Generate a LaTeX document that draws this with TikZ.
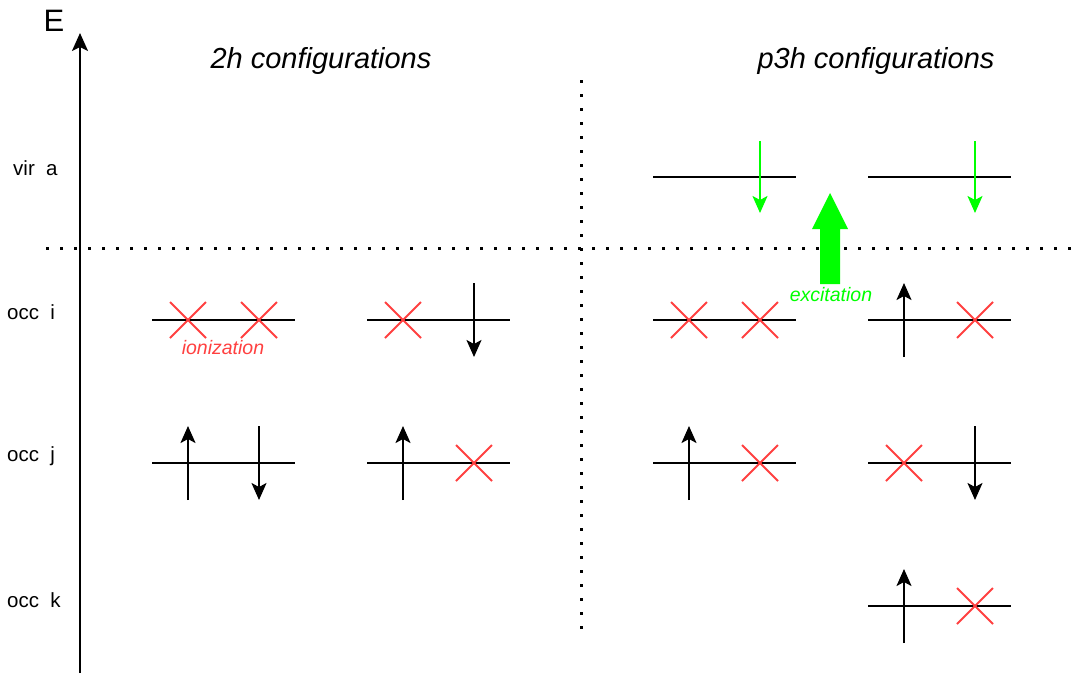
\documentclass[tikz,border=0pt]{standalone}
\usepackage{fontspec}
\setmainfont{Liberation Sans}
\usetikzlibrary{arrows.meta}
\definecolor{xred}{RGB}{255,64,64}
\definecolor{xgreen}{RGB}{0,255,0}
\tikzset{
  lvl/.style={line width=2pt,black},
  spin/.style={line width=2pt,black,-{Stealth[length=17pt,width=15pt,inset=4pt]}},
  gspin/.style={line width=2pt,xgreen,-{Stealth[length=17pt,width=15pt,inset=4pt]}},
  crs/.style={line width=2pt,xred},
  dots/.style={line width=3pt,dash pattern=on 3pt off 11pt},
  rowlab/.style={anchor=west,font=\fontsize{20.5}{24}\selectfont,inner sep=0pt},
  title/.style={font=\fontsize{29}{34}\selectfont\itshape,inner sep=0pt},
  note/.style={font=\fontsize{19.5}{23}\selectfont\itshape,inner sep=0pt},
}
\newcommand{\xcross}[2]{\draw[crs] (#1-18,#2-18) -- (#1+18,#2+18) (#1-18,#2+18) -- (#1+18,#2-18);}
\newcommand{\upspin}[2]{\draw[spin] (#1,#2+37) -- (#1,#2-37);}
\newcommand{\dnspin}[2]{\draw[spin] (#1,#2-37) -- (#1,#2+37);}
\newcommand{\level}[2]{\draw[lvl] (#1,#2) -- (#1+143,#2);}
\begin{document}
\begin{tikzpicture}[x=1pt,y=-1pt]
\useasboundingbox (0,0) rectangle (1072,673);
% axis
\draw[line width=2pt,-{Stealth[length=18pt,width=16pt,inset=4pt]}] (80,673) -- (80,33);
\node[font=\fontsize{31}{36}\selectfont,inner sep=0pt] (E) at (54,21) {E};
% titles
\node[title] (t2h) at (321,61) {2h configurations};
\node[title] (tp3h) at (876,61) {p3h configurations};
% dotted separators
\draw[dots] (581,80) -- (581,640);
\draw[dots] (46,248) -- (1072,248);
% row labels
\node[rowlab] (lva) at (13,168) {vir\ \ a};
\node[rowlab] (loi) at (7,312) {occ\ \ i};
\node[rowlab] (loj) at (7,456) {occ\ \ j};
\node[rowlab] (lok) at (7,600) {occ\ \ k};
% vir row
\level{653}{177}
\level{868}{177}
\draw[gspin] (760,141) -- (760,213);
\draw[gspin] (975,141) -- (975,213);
% big excitation arrow
\fill[xgreen] (820,284) -- (820,229) -- (812,229) -- (830,193) -- (848,229) -- (840,229) -- (840,284) -- cycle;
\node[note,text=xgreen] (exc) at (831,295) {excitation};
% occ i row
\level{152}{320} \xcross{188}{320} \xcross{259}{320}
\node[note,text=xred] (ion) at (223,348) {ionization};
\level{367}{320} \xcross{403}{320} \dnspin{474}{320}
\level{653}{320} \xcross{689}{320} \xcross{760}{320}
\level{868}{320} \upspin{904}{320} \xcross{975}{320}
% occ j row
\level{152}{463} \upspin{188}{463} \dnspin{259}{463}
\level{367}{463} \upspin{403}{463} \xcross{474}{463}
\level{653}{463} \upspin{689}{463} \xcross{760}{463}
\level{868}{463} \xcross{904}{463} \dnspin{975}{463}
% occ k row
\level{868}{606} \upspin{904}{606} \xcross{975}{606}
\end{tikzpicture}
\end{document}
